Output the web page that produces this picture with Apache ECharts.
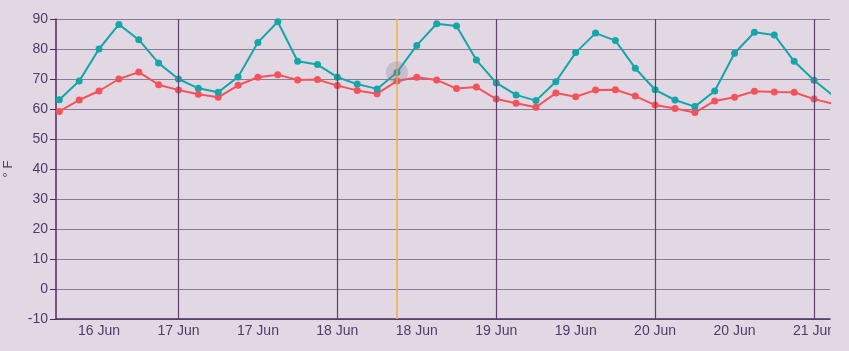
<!DOCTYPE html>
<html>
<head>
<meta charset="utf-8">
<script src="https://cdn.jsdelivr.net/npm/echarts@6/dist/echarts.min.js"></script>
<style>
  html, body { margin: 0; padding: 0; background: #e2d8e4; }
  #chart { width: 849px; height: 351px; }
</style>
</head>
<body>
<div id="chart"></div>
<script>
// readings every 3 hours, starting 16 Jun 06:00
const firstReading = "2024-06-16T06:00";
const stepHours = 3;

const highTemps = [
  63.1, 69.3, 80.0, 88.2, 83.1, 75.3, 70.0, 66.9,
  65.6, 70.7, 82.2, 89.1, 75.9, 74.8, 70.6, 68.3,
  66.7, 72.2, 81.2, 88.4, 87.7, 76.3, 68.7, 64.7,
  62.8, 69.1, 78.8, 85.3, 82.8, 73.6, 66.4, 63.0,
  60.8, 66.0, 78.6, 85.6, 84.7, 75.9, 69.6, 64.2
];
const lowTemps = [
  59.2, 63.0, 66.0, 70.0, 72.3, 68.1, 66.3, 64.9,
  63.9, 67.9, 70.6, 71.4, 69.7, 69.8, 67.8, 66.2,
  65.1, 69.3, 70.6, 69.7, 66.8, 67.3, 63.3, 61.9,
  60.6, 65.3, 64.1, 66.3, 66.4, 64.3, 61.3, 60.2,
  58.8, 62.7, 63.9, 65.9, 65.7, 65.6, 63.3, 61.7
];

const labelTimes = [
  "2024-06-16T12:00", "2024-06-17T00:00", "2024-06-17T12:00", "2024-06-18T00:00",
  "2024-06-18T12:00", "2024-06-19T00:00", "2024-06-19T12:00", "2024-06-20T00:00",
  "2024-06-20T12:00", "2024-06-21T00:00"
];
const midnights = ["2024-06-17T00:00", "2024-06-18T00:00", "2024-06-19T00:00", "2024-06-20T00:00", "2024-06-21T00:00"];
const hoverTime = "2024-06-18T09:00";
const axisStart = "2024-06-16T05:30";
const axisEnd = "2024-06-21T02:25";
const months = ["Jan", "Feb", "Mar", "Apr", "May", "Jun", "Jul", "Aug", "Sep", "Oct", "Nov", "Dec"];

const t = s => new Date(s).getTime();
const start = t(firstReading);
const times = highTemps.map((_, i) => start + i * stepHours * 3600 * 1000);
const hoverIdx = times.indexOf(t(hoverTime));

const bg = "#e2d8e4";
const textColor = "#4a3d6c";
const font = "Liberation Sans, Arial, sans-serif";

const chart = echarts.init(document.getElementById("chart"));
chart.setOption({
  backgroundColor: bg,
  animation: false,
  grid: { left: 56, right: 19, top: 19, bottom: 32, outerBoundsMode: "none", containLabel: false },
  xAxis: {
    type: "value",
    min: t(axisStart),
    max: t(axisEnd),
    axisLine: { onZero: false, lineStyle: { color: "#4b2d5e", width: 1.5 } },
    axisTick: { show: false },
    splitLine: { show: false },
    axisLabel: {
      customValues: labelTimes.map(t),
      color: textColor,
      fontSize: 14,
      fontFamily: font,
      margin: 5,
      hideOverlap: false,
      formatter: v => {
        const d = new Date(v);
        return d.getDate() + " " + months[d.getMonth()];
      }
    }
  },
  yAxis: {
    type: "value",
    min: -10,
    max: 90,
    interval: 10,
    name: "° F",
    nameLocation: "middle",
    nameGap: 41,
    nameTextStyle: { color: textColor, fontSize: 13, fontFamily: font },
    axisLine: { show: true, lineStyle: { color: "#4b2d5e", width: 1.5 } },
    axisTick: { show: true, length: 6, lineStyle: { color: "#4b2d5e" } },
    axisLabel: { color: textColor, fontSize: 14, fontFamily: font, margin: 8 },
    splitLine: { lineStyle: { color: "#8c7b94", width: 1 } }
  },
  graphic: [
    { type: "rect", shape: { x: 831, y: 320, width: 18, height: 30 }, style: { fill: bg }, z: 100 }
  ],
  series: [
    {
      name: "High",
      type: "line",
      data: times.map((x, i) => [x, highTemps[i]]),
      symbol: "circle",
      symbolSize: 7,
      color: "#14a6a8",
      lineStyle: { width: 2 },
      z: 3,
      markLine: {
        silent: true,
        symbol: "none",
        label: { show: false },
        data: [
          ...midnights.map(m => ({ xAxis: t(m), lineStyle: { color: "#5e416f", width: 1.2, type: "solid" } })),
          { xAxis: t(hoverTime), lineStyle: { color: "#f2b13f", width: 1.5, type: "solid" } }
        ]
      },
      markPoint: {
        silent: true,
        symbol: "circle",
        symbolSize: 22,
        label: { show: false },
        itemStyle: { color: "rgba(140,125,145,0.3)" },
        data: [{ coord: [times[hoverIdx], highTemps[hoverIdx]] }]
      }
    },
    {
      name: "Low",
      type: "line",
      data: times.map((x, i) => [x, lowTemps[i]]),
      symbol: "circle",
      symbolSize: 7,
      color: "#f55259",
      lineStyle: { width: 2 },
      z: 2
    }
  ]
});
</script>
</body>
</html>
